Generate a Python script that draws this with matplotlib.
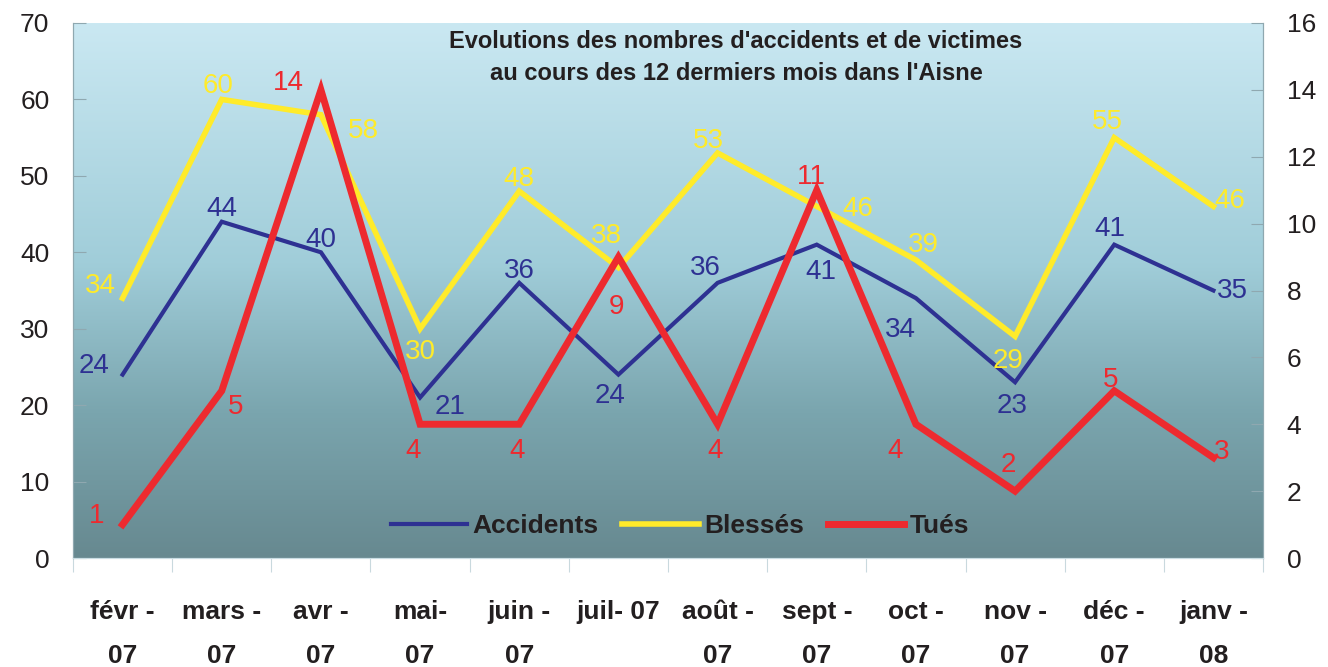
import matplotlib.pyplot as plt
from matplotlib.colors import LinearSegmentedColormap
from matplotlib.lines import Line2D
import numpy as np

plt.rcParams['font.family'] = ['Liberation Sans', 'DejaVu Sans']

# données
mois = ['févr -\n07', 'mars -\n07', 'avr -\n07', 'mai-\n07', 'juin -\n07', 'juil- 07',
        'août -\n07', 'sept -\n07', 'oct -\n07', 'nov -\n07', 'déc -\n07', 'janv -\n08']
accidents = [24, 44, 40, 21, 36, 24, 36, 41, 34, 23, 41, 35]
blesses = [34, 60, 58, 30, 48, 38, 53, 46, 39, 29, 55, 46]
tues = [1, 5, 14, 4, 4, 9, 4, 11, 4, 2, 5, 3]

# position des étiquettes (pixels)
off_acc = [(-29, 9), (0, 13), (0, 12), (30, -9), (0, 12), (-8, -21),
           (-12, 15), (4, -27), (-16, -32), (-3, -24), (-4, 16), (19, 0)]
off_ble = [(-22, 12), (-4, 13), (42, -16), (0, -23), (0, 12), (-12, 32),
           (-9, 12), (41, -3), (7, 15), (-7, -25), (-7, 16), (16, 5)]
off_tue = [(-26, 9), (14, -16), (-33, 7), (-7, -27), (-2, -27), (-2, -50),
           (-2, -27), (-5, 13), (-21, -27), (-7, 26), (-4, 11), (8, 6)]

c_acc = '#2E3192'
c_ble = '#FFEB2A'
c_tue = '#ED2A2F'
c_txt = '#231F20'

fig = plt.figure(figsize=(13.28, 6.67), dpi=100)
ax = fig.add_axes([73 / 1328, 1 - 558 / 667, 1190 / 1328, 535 / 667])
x = np.arange(len(mois))

# fond dégradé
cmap = LinearSegmentedColormap.from_list('fond', [(0, '#678990'), (0.27, '#7AA5AE'),
                                                  (0.55, '#A0CDD9'), (1, '#CAE8F2')])
grad = np.linspace(0, 1, 256).reshape(-1, 1)
ax.imshow(grad, extent=(-0.5, 11.5, 0, 70), origin='lower', aspect='auto', cmap=cmap, zorder=0)

ax.plot(x, accidents, color=c_acc, linewidth=3, zorder=3, solid_joinstyle='miter')
ax.plot(x, blesses, color=c_ble, linewidth=4, zorder=4, solid_joinstyle='miter')
ax.set_xlim(-0.5, 11.5)
ax.set_ylim(0, 70)

ax2 = ax.twinx()
ax2.plot(x, tues, color=c_tue, linewidth=5, zorder=5, solid_joinstyle='miter')
ax2.set_ylim(0, 16)

for a, b, o in zip(x, accidents, off_acc):
    ax.annotate(str(b), (a, b), xytext=o, textcoords='offset pixels', ha='center', va='center',
                fontsize=20, color=c_acc, zorder=6)
for a, b, o in zip(x, blesses, off_ble):
    ax.annotate(str(b), (a, b), xytext=o, textcoords='offset pixels', ha='center', va='center',
                fontsize=20, color=c_ble, zorder=6)
for a, b, o in zip(x, tues, off_tue):
    ax2.annotate(str(b), (a, b), xytext=o, textcoords='offset pixels', ha='center', va='center',
                 fontsize=20, color=c_tue, zorder=6)

# axes
ax.set_yticks(range(0, 71, 10))
ax2.set_yticks(range(0, 17, 2))
for a in (ax, ax2):
    a.tick_params(axis='y', direction='in', length=9, color='#8FA8B0', labelsize=19,
                  labelcolor=c_txt, pad=17)
ax.set_xticks(np.arange(-0.5, 12, 1))
ax.set_xticklabels([])
ax.tick_params(axis='x', which='major', direction='out', length=10, color='#C9D9DE')
ax.set_xticks(x, minor=True)
ax.set_xticklabels(mois, minor=True, fontweight='bold', fontsize=19,
                   color=c_txt, linespacing=2.05, va='top')
ax.tick_params(axis='x', which='minor', length=0, pad=30)
for a in (ax, ax2):
    a.spines['top'].set_visible(False)
    a.spines['left'].set_color('#8FA8B0')
    a.spines['right'].set_color('#8FA8B0')
    a.spines['bottom'].set_color('#C9DDE3')

# légende
handles = [Line2D([], [], color=c_acc, linewidth=3),
           Line2D([], [], color=c_ble, linewidth=4),
           Line2D([], [], color=c_tue, linewidth=5)]
leg = ax2.legend(handles, ['Accidents', 'Blessés', 'Tués'], loc='center', bbox_to_anchor=(0.51, 0.06),
                 ncol=3, frameon=False, handlelength=2.9, handletextpad=0.2, columnspacing=0.9,
                 prop={'weight': 'bold', 'size': 19})
for t in leg.get_texts():
    t.set_color(c_txt)

fig.text(736 / 1328, 1 - 57 / 667, "Evolutions des nombres d'accidents et de victimes\n"
         "au cours des 12 dermiers mois dans l'Aisne", ha='center', va='center',
         fontweight='bold', fontsize=17, color=c_txt, linespacing=1.5)

plt.savefig('out.png', dpi=100)
